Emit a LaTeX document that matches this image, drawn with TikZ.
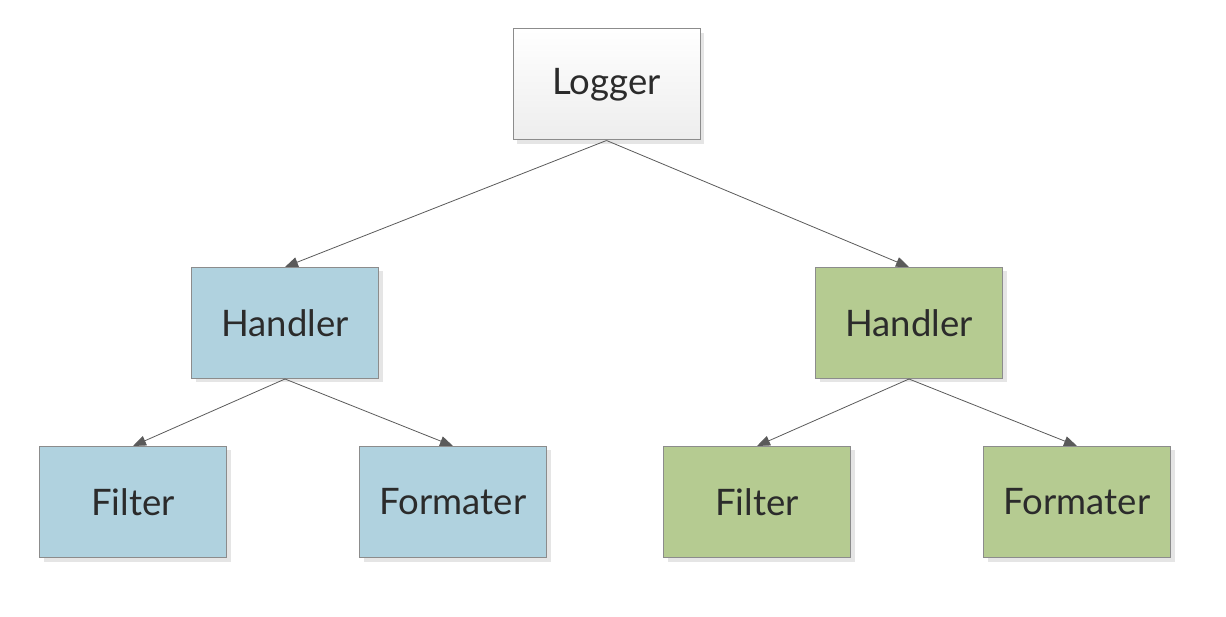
\documentclass[tikz,border=0pt]{standalone}
\usepackage{fontspec}
\setmainfont{Lato}
\usetikzlibrary{arrows.meta,shadows}
\definecolor{boxline}{HTML}{8C8C8C}
\definecolor{bluefill}{HTML}{B0D2DF}
\definecolor{greenfill}{HTML}{B5CB91}
\definecolor{txt}{HTML}{2B2B2B}
\definecolor{arrowc}{HTML}{5A5A5A}
\tikzset{
  box/.style={draw=boxline, line width=1pt, minimum width=187pt, minimum height=111pt,
    inner sep=0pt, text=txt, font=\fontsize{36.5}{42}\selectfont,
    drop shadow={shadow xshift=4pt, shadow yshift=-4pt, fill=black!10, opacity=1}},
  bluebox/.style={box, fill=bluefill},
  greenbox/.style={box, fill=greenfill},
  logbox/.style={box, top color=white, bottom color=black!7},
  conn/.style={draw=arrowc, line width=0.8pt, -{Triangle[length=13pt,width=10pt]}}
}
\newcommand{\lbl}[1]{\raisebox{-3pt}{#1}}
\begin{document}
\begin{tikzpicture}[x=1pt,y=1pt]
\useasboundingbox (0,0) rectangle (1226,616);
\node[logbox] (logger) at (606.5,531.5) {\lbl{Logger}};
\node[bluebox] (hl) at (285,293) {\lbl{Handler}};
\node[greenbox] (hr) at (909,293) {\lbl{Handler}};
\node[bluebox] (fl) at (133,114) {\lbl{Filter}};
\node[bluebox] (fml) at (453,114) {\lbl{Formater}};
\node[greenbox] (fr) at (757,114) {\lbl{Filter}};
\node[greenbox] (fmr) at (1077,114) {\lbl{Formater}};
\draw[conn] (logger.south) -- (hl.north);
\draw[conn] (logger.south) -- (hr.north);
\draw[conn] (hl.south) -- (fl.north);
\draw[conn] (hl.south) -- (fml.north);
\draw[conn] (hr.south) -- (fr.north);
\draw[conn] (hr.south) -- (fmr.north);
\end{tikzpicture}
\end{document}
